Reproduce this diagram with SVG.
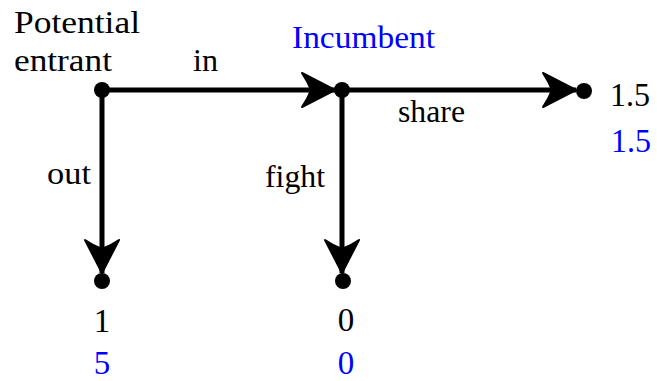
<svg xmlns="http://www.w3.org/2000/svg" width="657" height="381" viewBox="0 0 657 381">
<style>
  .edge { stroke: #000; stroke-width: 5; fill: none; marker-end: url(#head); }
  .dot { fill: #000; }
  .lbl { font-family: 'Liberation Serif', 'DejaVu Serif', serif; font-size: 31px; fill: #000; }
  .pay { font-family: 'Liberation Serif', 'DejaVu Serif', serif; font-size: 33px; fill: #000; }
  .blue { fill: #0000FF; }
</style>
<defs>
  <marker id="head" markerUnits="userSpaceOnUse" viewBox="-38 -20 42 40" refX="0" refY="0" markerWidth="42" markerHeight="40" orient="auto" overflow="visible">
    <path d="M0,0 L-33,-17 Q-27,-8 -24,0 Q-27,8 -33,17 Z" fill="#000" stroke="#000" stroke-width="2" stroke-linejoin="round"/>
  </marker>
</defs>
<rect width="657" height="381" fill="#fff"/>
<g id="connectors">
  <path class="edge" d="M102,90 L335,90"/>
  <path class="edge" d="M342,90 L576,90"/>
  <path class="edge" d="M102,90 L102,273"/>
  <path class="edge" d="M342,90 L342,273"/>
  <text class="lbl" x="193" y="71" textLength="25" lengthAdjust="spacingAndGlyphs">in</text>
  <text class="lbl" x="398" y="122" textLength="67" lengthAdjust="spacingAndGlyphs">share</text>
  <text class="lbl" x="47" y="184" textLength="44" lengthAdjust="spacingAndGlyphs">out</text>
  <text class="lbl" x="265" y="187" textLength="60" lengthAdjust="spacingAndGlyphs">fight</text>
</g>
<g id="entrant">
  <circle class="dot" cx="102" cy="90" r="8"/>
  <text class="lbl" x="14" y="33" textLength="126" lengthAdjust="spacingAndGlyphs">Potential</text>
  <text class="lbl" x="14" y="71" textLength="98" lengthAdjust="spacingAndGlyphs">entrant</text>
</g>
<g id="incumbent">
  <circle class="dot" cx="342" cy="90" r="8"/>
  <text class="lbl blue" x="292" y="48" textLength="143" lengthAdjust="spacingAndGlyphs">Incumbent</text>
</g>
<g id="share-outcome">
  <circle class="dot" cx="584" cy="91" r="8"/>
  <text class="pay" x="610" y="106" textLength="40" lengthAdjust="spacingAndGlyphs">1.5</text>
  <text class="pay blue" x="611" y="152" textLength="40" lengthAdjust="spacingAndGlyphs">1.5</text>
</g>
<g id="out-outcome">
  <circle class="dot" cx="102" cy="281" r="8"/>
  <text class="pay" x="102" y="332" text-anchor="middle">1</text>
  <text class="pay blue" x="102" y="374" text-anchor="middle">5</text>
</g>
<g id="fight-outcome">
  <circle class="dot" cx="343" cy="281" r="8"/>
  <text class="pay" x="346" y="331" text-anchor="middle">0</text>
  <text class="pay blue" x="346" y="374" text-anchor="middle">0</text>
</g>
</svg>
